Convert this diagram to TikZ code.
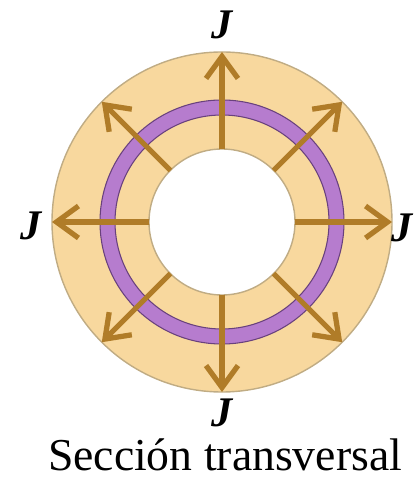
\documentclass[tikz,border=0pt]{standalone}
\usepackage{fontspec}
\setmainfont{Liberation Serif}
\usetikzlibrary{arrows.meta}

\definecolor{ringtan}{RGB}{248,216,158}
\definecolor{ringedge}{RGB}{192,172,132}
\definecolor{jgold}{RGB}{176,124,40}
\definecolor{wirepurple}{RGB}{182,124,206}
\definecolor{wireedge}{RGB}{105,65,125}

\tikzset{
    current/.style={jgold, line width=3pt, -{Straight Barb[length=0.44cm, width=0.64cm]}},
    jlabel/.style={font=\fontsize{24}{24}\selectfont\bfseries\itshape, inner sep=0pt}
}

\begin{document}
\begin{tikzpicture}[x=0.02cm, y=0.02cm]
    \useasboundingbox (-222,-257) rectangle (192,222);

    % Cross section
    \draw[ringedge, fill=ringtan, line width=0.8pt] (0,0) circle (170);
    \draw[ringedge, fill=white, line width=0.8pt] (0,0) circle (73);

    % Wire loop
    \draw[wireedge, fill=wirepurple, even odd rule, line width=0.6pt]
        (0,0) circle (122) (0,0) circle (107);

    % Current density
    \foreach \a in {0,45,...,315} {
        \coordinate (in\a) at (\a:73);
        \coordinate (out\a) at (\a:170);
        \draw[current] (in\a) -- (out\a);
    }

    % Labels
    \node[jlabel] (jtop) at (0,197) {J};
    \node[jlabel] (jleft) at (-191,-4) {J};
    \node[jlabel] (jright) at (180,-6) {J};
    \node[jlabel] (jbot) at (0,-191) {J};
    \node[anchor=base, font=\fontsize{26}{26}\selectfont, inner sep=0pt] (caption) at (3,-248) {Sección transversal};
\end{tikzpicture}
\end{document}
